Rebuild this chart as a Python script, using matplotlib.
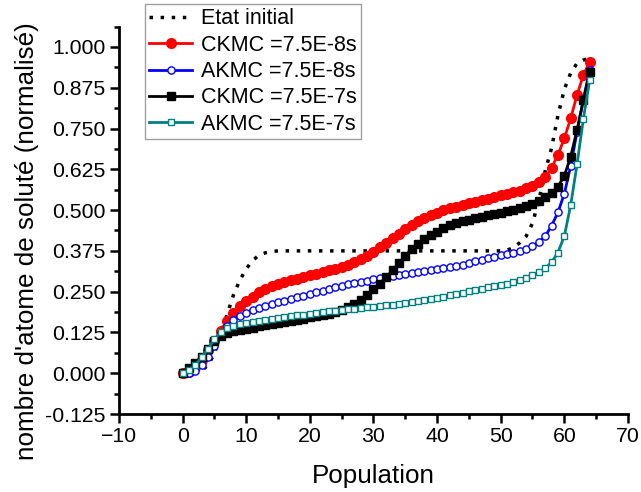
import numpy as np
import matplotlib
matplotlib.use("Agg")
import matplotlib.pyplot as plt
from matplotlib.ticker import MultipleLocator

plt.rcParams['font.family'] = ['Liberation Sans', 'DejaVu Sans']

population = list(range(65))

etat_initial = [0.0, 0.0, 0.002, 0.008, 0.025, 0.06, 0.12, 0.18, 0.24, 0.285,
                0.32, 0.345, 0.362, 0.369, 0.373, 0.375, 0.375, 0.375, 0.375, 0.375,
                0.375, 0.375, 0.375, 0.375, 0.375, 0.375, 0.375, 0.375, 0.375, 0.375,
                0.375, 0.375, 0.375, 0.375, 0.375, 0.375, 0.375, 0.375, 0.375, 0.375,
                0.375, 0.375, 0.375, 0.375, 0.375, 0.375, 0.375, 0.375, 0.375, 0.375,
                0.375, 0.377, 0.385, 0.40, 0.42, 0.46, 0.53, 0.62, 0.69, 0.79,
                0.87, 0.92, 0.95, 0.96, 0.965]

ckmc_8 = [0.0, 0.005, 0.02, 0.04, 0.07, 0.10, 0.13, 0.16, 0.185, 0.205,
          0.22, 0.235, 0.248, 0.258, 0.267, 0.274, 0.28, 0.285, 0.29, 0.295,
          0.30, 0.305, 0.31, 0.315, 0.32, 0.326, 0.333, 0.341, 0.35, 0.36,
          0.372, 0.386, 0.40, 0.414, 0.428, 0.442, 0.455, 0.466, 0.476, 0.485,
          0.492, 0.499, 0.505, 0.511, 0.516, 0.521, 0.525, 0.53, 0.535, 0.54,
          0.545, 0.55, 0.555, 0.56, 0.567, 0.575, 0.585, 0.60, 0.63, 0.669,
          0.72, 0.781, 0.853, 0.914, 0.955]

akmc_8 = [0.0, 0.002, 0.008, 0.025, 0.05, 0.085, 0.12, 0.145, 0.162, 0.176,
          0.186, 0.194, 0.201, 0.207, 0.212, 0.217, 0.222, 0.228, 0.233, 0.238,
          0.243, 0.248, 0.253, 0.258, 0.263, 0.268, 0.272, 0.276, 0.28, 0.284,
          0.288, 0.292, 0.295, 0.298, 0.301, 0.304, 0.307, 0.31, 0.313, 0.316,
          0.319, 0.322, 0.325, 0.329, 0.333, 0.338, 0.343, 0.348, 0.353, 0.357,
          0.361, 0.365, 0.37, 0.376, 0.382, 0.39, 0.402, 0.42, 0.452, 0.493,
          0.55, 0.635, 0.74, 0.84, 0.93]

ckmc_7 = [0.0, 0.015, 0.03, 0.05, 0.075, 0.10, 0.115, 0.122, 0.128, 0.133,
          0.137, 0.14, 0.144, 0.148, 0.151, 0.155, 0.158, 0.161, 0.164, 0.167,
          0.171, 0.175, 0.179, 0.183, 0.188, 0.195, 0.203, 0.213, 0.225, 0.24,
          0.257, 0.275, 0.295, 0.315, 0.337, 0.36, 0.38, 0.396, 0.41, 0.423,
          0.434, 0.444, 0.453, 0.46, 0.466, 0.471, 0.476, 0.48, 0.484, 0.488,
          0.492, 0.496, 0.5, 0.505, 0.512, 0.52, 0.528, 0.54, 0.553, 0.572,
          0.605, 0.664, 0.745, 0.837, 0.924]

akmc_7 = [0.0, 0.01, 0.025, 0.05, 0.075, 0.105, 0.125, 0.138, 0.146, 0.151,
          0.154, 0.157, 0.16, 0.162, 0.165, 0.168, 0.171, 0.174, 0.177, 0.18,
          0.183, 0.186, 0.188, 0.19, 0.192, 0.194, 0.196, 0.198, 0.2, 0.202,
          0.204, 0.206, 0.208, 0.21, 0.212, 0.214, 0.217, 0.22, 0.223, 0.227,
          0.231, 0.235, 0.239, 0.243, 0.247, 0.251, 0.255, 0.259, 0.263, 0.267,
          0.271, 0.275, 0.28, 0.286, 0.293, 0.3, 0.31, 0.322, 0.34, 0.37,
          0.42, 0.515, 0.64, 0.78, 0.9]

fig = plt.figure(figsize=(6.41, 4.92), dpi=100)
ax = fig.add_axes([0.1856, 0.1585, 0.794, 0.7875])

ax.plot(population, etat_initial, color='black', lw=2.5, linestyle=(0, (1, 2.2)),
        label='Etat initial')
ax.plot(population, ckmc_8, color='red', lw=2, marker='o', ms=7,
        mfc='red', mec='red', label='CKMC =7.5E-8s')
ax.plot(population, akmc_8, color='blue', lw=2, marker='o', ms=5.2,
        mfc='white', mec='blue', mew=1, label='AKMC =7.5E-8s')
ax.plot(population, ckmc_7, color='black', lw=2, marker='s', ms=5.8,
        mfc='black', mec='black', label='CKMC =7.5E-7s')
ax.plot(population, akmc_7, color='#008080', lw=2, marker='s', ms=5.0,
        mfc='white', mec='#008080', mew=1, label='AKMC =7.5E-7s')

ax.set_xlim(-10, 70)
ax.set_ylim(-0.125, 1.0625)
ax.xaxis.set_major_locator(MultipleLocator(10))
ax.xaxis.set_minor_locator(MultipleLocator(5))
ax.yaxis.set_major_locator(MultipleLocator(0.125))
ax.yaxis.set_minor_locator(MultipleLocator(0.0625))
ax.yaxis.set_major_formatter(matplotlib.ticker.FormatStrFormatter('%.3f'))

for s in ['top', 'right']:
    ax.spines[s].set_visible(False)
for s in ['left', 'bottom']:
    ax.spines[s].set_linewidth(2.0)

ax.tick_params(which='major', direction='out', length=6.5, width=1.8,
               labelsize=15.3, pad=3)
ax.tick_params(which='minor', direction='out', length=3.5, width=1.8)

ax.set_xlabel('Population', fontsize=18.7)
ax.set_ylabel("nombre d'atome de soluté (normalisé)", fontsize=18.7)
ax.xaxis.set_label_coords(0.5, -0.13)
ax.yaxis.set_label_coords(-0.157, 0.445)

leg = fig.legend(loc='upper left', bbox_to_anchor=(145 / 641, 1 - 4 / 492),
                 fontsize=15.5, frameon=True, fancybox=False, edgecolor='#888888',
                 handlelength=2.0, handletextpad=0.4, borderpad=0.2,
                 labelspacing=0.25, borderaxespad=0)
leg.get_frame().set_linewidth(1.0)

fig.savefig('out.png', dpi=100)
